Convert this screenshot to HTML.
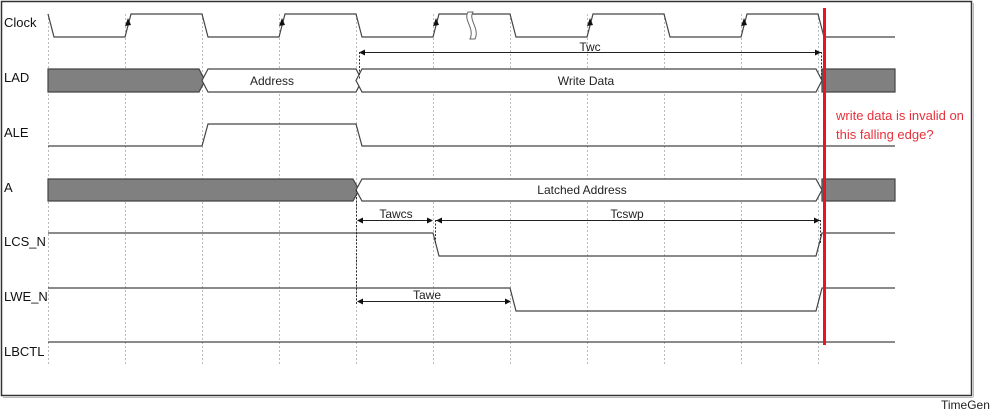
<!DOCTYPE html>
<html><head><meta charset="utf-8"><style>
html,body{margin:0;padding:0;background:#fff;width:998px;height:415px;overflow:hidden}
text{font-family:"Liberation Sans",Arial,sans-serif}
</style></head><body>
<svg width="998" height="415" viewBox="0 0 998 415" xmlns="http://www.w3.org/2000/svg">
<rect x="0" y="0" width="998" height="415" fill="#fff"/>
<rect x="1.5" y="1.5" width="970" height="394" fill="none" stroke="#333" stroke-width="1.5"/>
<line x1="3" y1="397.5" x2="973" y2="397.5" stroke="#bbb" stroke-width="1"/>
<line x1="973.5" y1="3" x2="973.5" y2="397" stroke="#bbb" stroke-width="1"/>
<text x="941" y="409" font-size="12" fill="#222">TimeGen</text>
<g stroke="#bbb" stroke-dasharray="2,2" stroke-width="1">
<line x1="48.5" y1="14" x2="48.5" y2="365"/>
<line x1="125.5" y1="14" x2="125.5" y2="365"/>
<line x1="202.5" y1="14" x2="202.5" y2="365"/>
<line x1="279.5" y1="14" x2="279.5" y2="365"/>
<line x1="356.5" y1="14" x2="356.5" y2="365"/>
<line x1="433.5" y1="14" x2="433.5" y2="365"/>
<line x1="510.5" y1="14" x2="510.5" y2="365"/>
<line x1="587.5" y1="14" x2="587.5" y2="365"/>
<line x1="664.5" y1="14" x2="664.5" y2="365"/>
<line x1="741.5" y1="14" x2="741.5" y2="365"/>
<line x1="818.5" y1="14" x2="818.5" y2="365"/>
</g>
<g font-size="13" fill="#111">
<text x="4" y="27">Clock</text>
<text x="4" y="82">LAD</text>
<text x="4" y="137">ALE</text>
<text x="4" y="192">A</text>
<text x="4" y="246">LCS_N</text>
<text x="4" y="301">LWE_N</text>
<text x="4" y="356">LBCTL</text>
</g>
<g fill="none" stroke="#444" stroke-width="1.2">
<polyline points="48,14 54,37 125,37 131,14 202,14 208,37 279,37 285,14 356,14 362,37 433,37 439,14 510,14 516,37 587,37 593,14 664,14 670,37 741,37 747,14 818,14 824,37 895,37"/>
<polyline points="48,146 202,146 208,124 356,124 362,146 895,146"/>
<polyline points="48,233 433,233 439,256 816,256 822,233 895,233"/>
<polyline points="48,288 510,288 516,311 816,311 822,288 895,288"/>
<line x1="48" y1="342" x2="895" y2="342"/>
</g>
<path d="M468,12 L473,12 C468,20 480,28 475,39 L470,39 C475,28 463,20 468,12 Z" fill="#fff" stroke="#666" stroke-width="1"/>
<g fill="#111">
<polygon points="128,18 125,26 131,25"/>
<polygon points="282,18 279,26 285,25"/>
<polygon points="436,18 433,26 439,25"/>
<polygon points="590,18 587,26 593,25"/>
<polygon points="744,18 741,26 747,25"/>
</g>
<g stroke="#444" stroke-width="1.2">
<polygon points="48,69 199,69 205,80.5 199,92 48,92" fill="#808080"/>
<polygon points="208,69 356,69 362,80.5 356,92 208,92 202,80.5" fill="#fff"/>
<polygon points="362,69 816,69 822,80.5 816,92 362,92 356,80.5" fill="#fff"/>
<polygon points="822,69 895,69 895,92 822,92" fill="#808080"/>
<polygon points="48,179 353,179 359,190 353,201 48,201" fill="#808080"/>
<polygon points="362,179 816,179 822,190 816,201 362,201 356,190" fill="#fff"/>
<polygon points="822,179 895,179 895,201 822,201" fill="#808080"/>
</g>
<g font-size="12" fill="#222" text-anchor="middle">
<text x="272" y="85">Address</text>
<text x="586" y="85">Write Data</text>
<text x="582" y="194">Latched Address</text>
<text x="590" y="51">Twc</text>
<text x="396" y="218">Tawcs</text>
<text x="627" y="218">Tcswp</text>
<text x="427" y="299">Tawe</text>
</g>
<g stroke="#222" stroke-width="1" fill="none">
<line x1="359" y1="52.5" x2="821" y2="52.5"/>
<line x1="358" y1="220.5" x2="432" y2="220.5"/>
<line x1="436" y1="220.5" x2="820" y2="220.5"/>
<line x1="358" y1="301.5" x2="510" y2="301.5"/>
</g>
<g stroke="#333" stroke-width="1" stroke-dasharray="2,1.5">
<line x1="359.5" y1="52" x2="359.5" y2="80"/>
<line x1="821.5" y1="52" x2="821.5" y2="80"/>
<line x1="356.5" y1="190" x2="356.5" y2="305"/>
<line x1="435.5" y1="220" x2="435.5" y2="244"/>
<line x1="820.5" y1="220" x2="820.5" y2="244"/>
</g>
<g fill="#111">
<polygon points="359,52.5 365,49.5 365,55.5"/>
<polygon points="821,52.5 815,49.5 815,55.5"/>
<polygon points="357,220.5 363,217.5 363,223.5"/>
<polygon points="433,220.5 427,217.5 427,223.5"/>
<polygon points="436,220.5 442,217.5 442,223.5"/>
<polygon points="820,220.5 814,217.5 814,223.5"/>
<polygon points="357,301.5 363,298.5 363,304.5"/>
<polygon points="511,301.5 505,298.5 505,304.5"/>
</g>
<line x1="824.5" y1="8" x2="824.5" y2="345" stroke="#e8141e" stroke-width="3"/>
<g font-size="13" fill="#e8303a">
<text x="836" y="120">write data is invalid on</text>
<text x="836" y="139">this falling edge?</text>
</g>
</svg>
</body></html>
